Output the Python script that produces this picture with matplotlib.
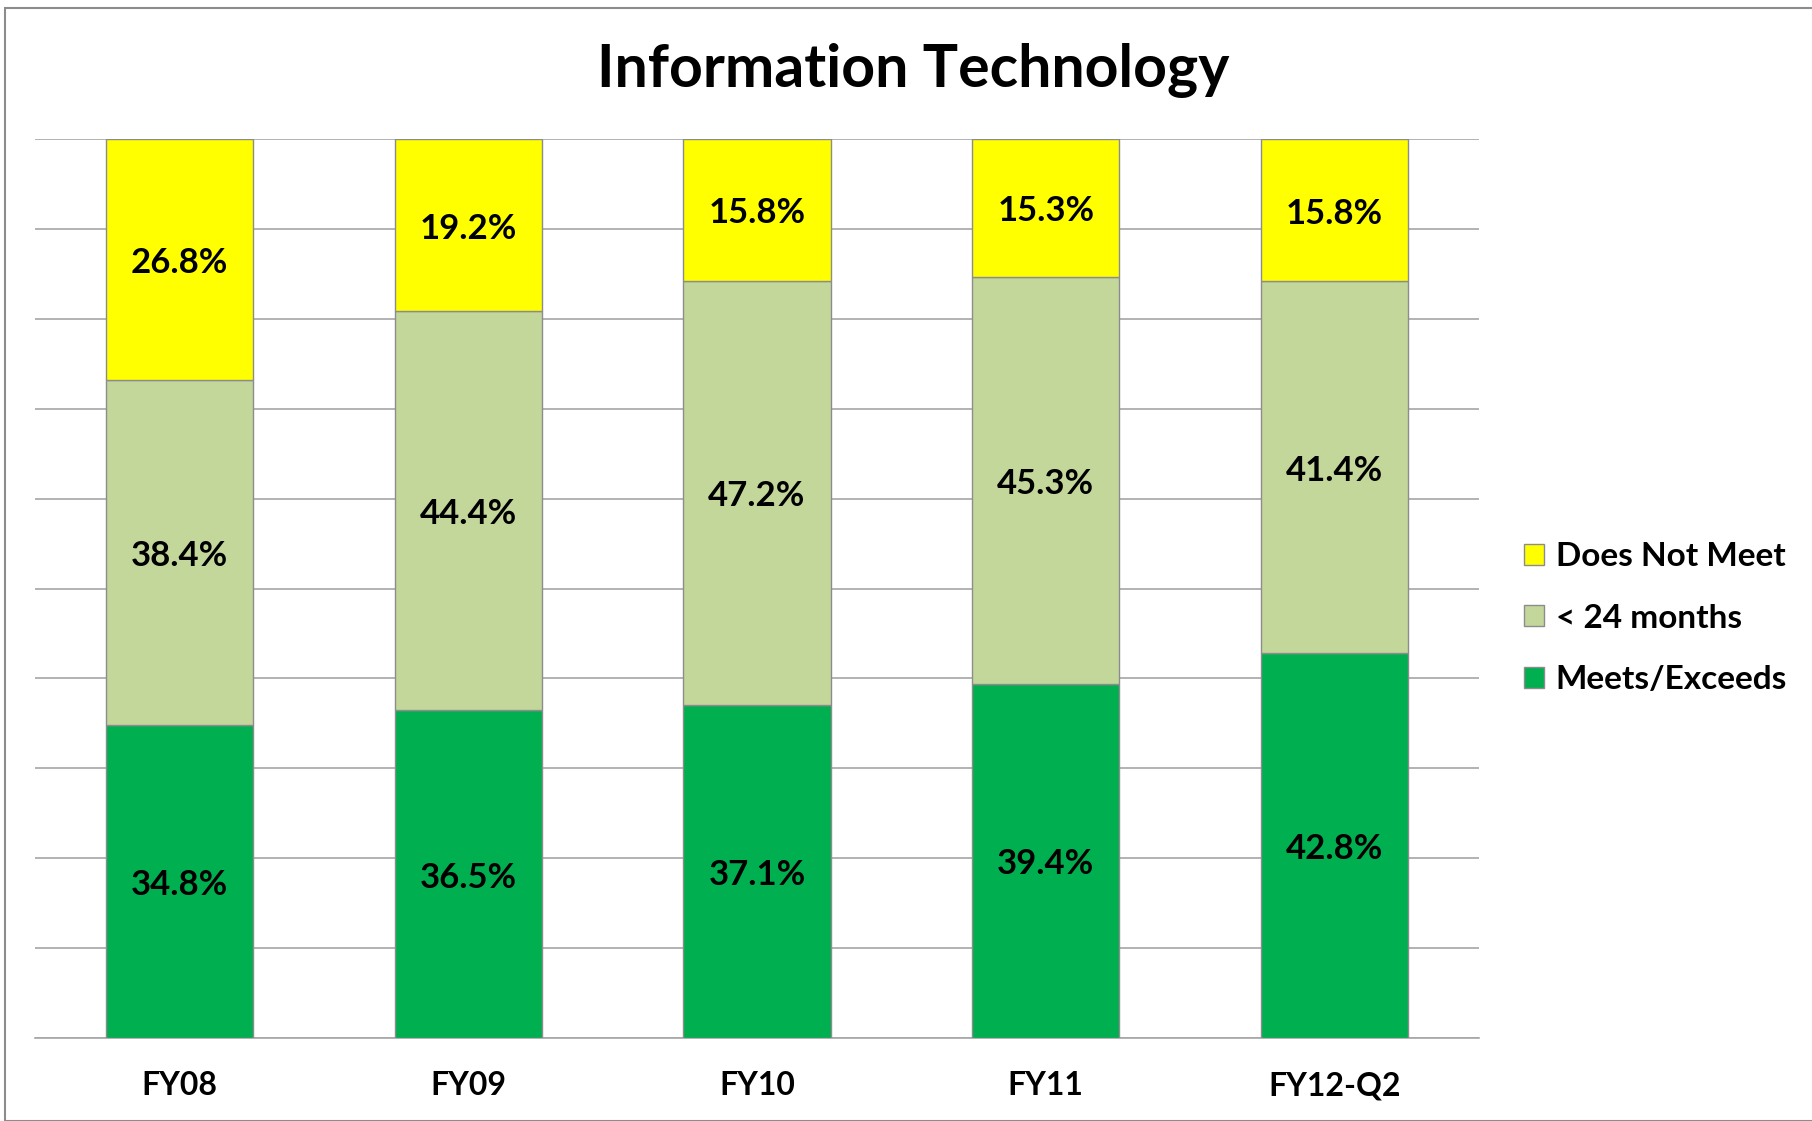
import matplotlib
matplotlib.use("Agg")
import matplotlib.pyplot as plt
from matplotlib.patches import Rectangle
from matplotlib.transforms import offset_copy
import numpy as np

categories = ["FY08", "FY09", "FY10", "FY11", "FY12-Q2"]
meets = [34.8, 36.5, 37.1, 39.4, 42.8]
under24 = [38.4, 44.4, 47.2, 45.3, 41.4]
does_not = [26.8, 19.2, 15.8, 15.3, 15.8]
series_names = ["Meets/Exceeds", "< 24 months", "Does Not Meet"]
colors = ["#00B050", "#C4D79B", "#FFFF00"]

plt.rcParams['font.family'] = ['Lato', 'DejaVu Sans']

W, H = 1812, 1121
fig = plt.figure(figsize=(W / 100, H / 100), dpi=100)

# outer frame
fig.patches.append(Rectangle((5 / W, 0), 1.2, 1 - 8 / H, transform=fig.transFigure,
                             fill=False, edgecolor="#8C8C8C", linewidth=1.5))

ax = fig.add_axes([35 / W, 1 - 1038 / H, 1444 / W, (1038 - 139) / H])

data = np.array([meets, under24, does_not], dtype=float)
totals = data.sum(axis=0)
pct = data / totals * 100

label_tr = offset_copy(ax.transData, fig=fig, x=0, y=-3.5, units="dots")

x = np.arange(len(categories))
bottom = np.zeros(len(categories))
handles = []
for i in range(3):
    b = ax.bar(x, pct[i], bottom=bottom, width=0.51, color=colors[i],
               edgecolor="#8C8C8C", linewidth=1.0, zorder=3, label=series_names[i])
    handles.append(b)
    for j in range(len(categories)):
        ax.text(x[j], bottom[j] + pct[i][j] / 2, f"{data[i][j]:.1f}%",
                ha="center", va="center", fontsize=25, fontweight="bold",
                color="black", zorder=4, transform=label_tr)
    bottom += pct[i]

ax.set_xlim(-0.5, len(categories) - 0.5)
ax.set_ylim(0, 100)
ax.set_yticks(np.arange(0, 101, 10))
ax.yaxis.grid(True, color="#A6A6A6", linewidth=1.2, zorder=0)
ax.set_yticklabels([])
ax.tick_params(axis="y", length=0)
ax.tick_params(axis="x", length=0, pad=24)
ax.set_xticks(x)
ax.set_xticklabels(categories, fontsize=23, fontweight="bold")
for s in ["top", "right", "left"]:
    ax.spines[s].set_visible(False)
ax.spines["bottom"].set_color("#A6A6A6")
ax.spines["bottom"].set_linewidth(1.2)

fig.text(913 / W, 1 - 71 / H, "Information Technology", ha="center", va="center",
         fontsize=42.5, fontweight="bold")

leg = fig.legend(handles[::-1], series_names[::-1], loc="center left",
                 bbox_to_anchor=(1524 / W, 1 - 618 / H), frameon=False,
                 borderpad=0, borderaxespad=0,
                 prop={"weight": "bold", "size": 24},
                 handlelength=0.6, handleheight=0.6, handletextpad=0.35,
                 labelspacing=0.97)
for p in leg.get_patches():
    p.set_edgecolor("#8C8C8C")

fig.savefig("out.png", dpi=100)
